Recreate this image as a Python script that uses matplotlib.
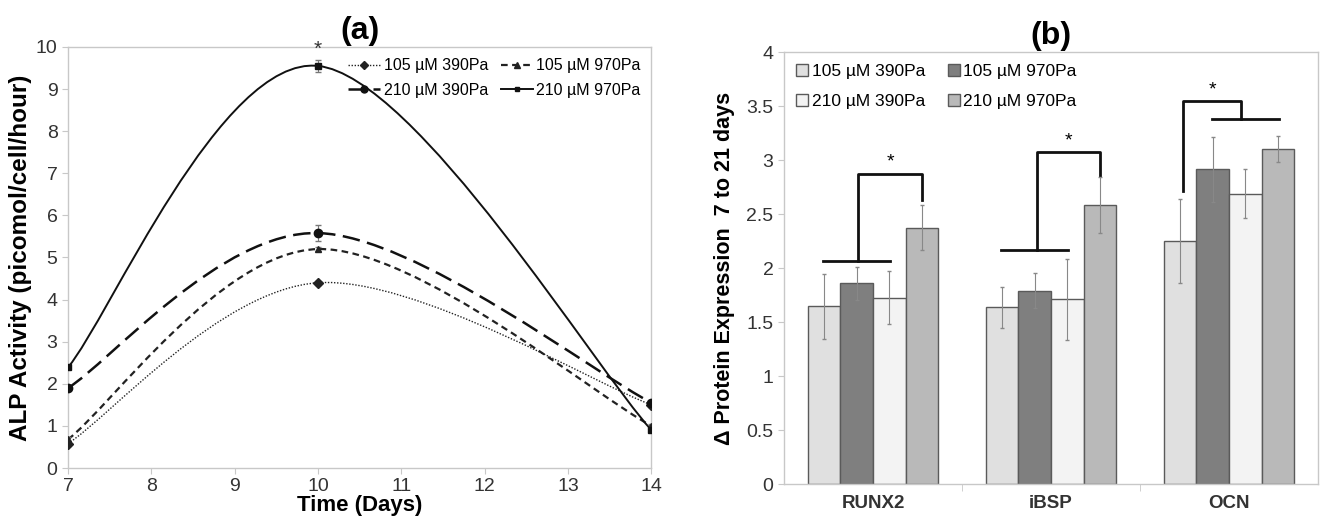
import numpy as np
import matplotlib
matplotlib.use("Agg")
import matplotlib.pyplot as plt
from matplotlib.path import Path
from matplotlib.patches import PathPatch
from matplotlib.lines import Line2D

plt.rcParams['font.family'] = ['Liberation Sans', 'DejaVu Sans']

# ---- panel (a) data ----
days = [7, 10, 14]
alp_series = ['105 µM 390Pa', '105 µM 970Pa', '210 µM 390Pa', '210 µM 970Pa']
alp_105_390 = [0.58, 4.40, 1.50]
alp_105_970 = [0.68, 5.20, 1.00]
alp_210_390 = [1.90, 5.58, 1.55]
alp_210_970 = [2.39, 9.55, 0.90]
alp_err_105_390 = [0.05, 0.05, 0.05]
alp_err_105_970 = [0.05, 0.05, 0.05]
alp_err_210_390 = [0.05, 0.20, 0.05]
alp_err_210_970 = [0.05, 0.15, 0.05]

# ---- panel (b) data ----
proteins = ['RUNX2', 'iBSP', 'OCN']
expr_105_390 = [1.645, 1.635, 2.25]
expr_105_970 = [1.858, 1.79, 2.915]
expr_210_390 = [1.725, 1.71, 2.69]
expr_210_970 = [2.374, 2.585, 3.10]
err_105_390 = [0.30, 0.19, 0.39]
err_105_970 = [0.15, 0.16, 0.30]
err_210_390 = [0.245, 0.375, 0.225]
err_210_970 = [0.21, 0.26, 0.12]


def smooth_path(xs, ys):
    # Excel-style smoothed line: cubic Bezier with 1/6 neighbour tangents
    pts = np.column_stack([xs, ys]).astype(float)
    ext = np.vstack([pts[0], pts, pts[-1]])
    verts = [pts[0]]
    codes = [Path.MOVETO]
    for i in range(len(pts) - 1):
        p0, p1, p2, p3 = ext[i], ext[i + 1], ext[i + 2], ext[i + 3]
        c1 = p1 + (p2 - p0) / 6.0
        c2 = p2 - (p3 - p1) / 6.0
        verts += [c1, c2, p2]
        codes += [Path.CURVE4] * 3
    return Path(verts, codes)


def row_order(items):
    # legend fills columns first; reorder so entries read across rows (2 cols)
    return [items[0], items[2], items[1], items[3]]


fig = plt.figure(figsize=(13.23, 5.32), dpi=100)
ax1 = fig.add_axes([0.0514, 0.1203, 0.441, 0.7914])
ax2 = fig.add_axes([0.5926, 0.0902, 0.4036, 0.812])

spine_col = '#c8c8c8'
for ax in (ax1, ax2):
    for s in ax.spines.values():
        s.set_color(spine_col)
        s.set_linewidth(1.0)
    ax.tick_params(colors='#333333', labelsize=14, length=4, color=spine_col)

# ---- panel (a) ----
styles = [
    dict(ls=(0, (1, 1.2)), lw=1.0, marker='D', ms=5, color='#222222'),
    dict(ls=(0, (3, 2)), lw=1.6, marker='^', ms=5, color='#222222'),
    dict(ls=(0, (7, 3)), lw=1.8, marker='o', ms=6, color='#111111'),
    dict(ls='-', lw=1.4, marker='s', ms=4, color='#111111'),
]
values = [alp_105_390, alp_105_970, alp_210_390, alp_210_970]
errs = [alp_err_105_390, alp_err_105_970, alp_err_210_390, alp_err_210_970]
handles = []
for name, vals, err, st in zip(alp_series, values, errs, styles):
    patch = PathPatch(smooth_path(days, vals), fill=False, edgecolor=st['color'],
                      lw=st['lw'], linestyle=st['ls'], zorder=2)
    ax1.add_patch(patch)
    ax1.errorbar(days, vals, yerr=err, fmt='none', ecolor='#777777',
                 elinewidth=0.8, capsize=2, zorder=3)
    ax1.plot(days, vals, ls='none', marker=st['marker'], ms=st['ms'],
             color=st['color'], zorder=4)
    handles.append(Line2D([], [], color=st['color'], lw=st['lw'], ls=st['ls'],
                          marker=st['marker'], ms=st['ms'] - 1))

ax1.text(10, 9.72, '*', ha='center', va='bottom', fontsize=15, color='#333333')
ax1.set_xlim(7, 14)
ax1.set_ylim(0, 10)
ax1.set_xticks(range(7, 15))
ax1.set_yticks(range(0, 11))
ax1.set_xlabel('Time (Days)', fontsize=16, fontweight='bold', labelpad=0)
ax1.set_ylabel('ALP Activity (picomol/cell/hour)', fontsize=17.5, fontweight='bold', labelpad=3)
ax1.set_title('(a)', fontsize=23, fontweight='bold', pad=6)
ax1.legend(row_order(handles), row_order(alp_series), ncol=2, loc='upper right',
           frameon=False, fontsize=11.5, handlelength=2.0, handletextpad=0.2,
           columnspacing=0.8, labelspacing=0.6, borderaxespad=0.3)

# ---- panel (b) ----
x = np.arange(len(proteins))
w = 0.183
bar_vals = [expr_105_390, expr_105_970, expr_210_390, expr_210_970]
bar_errs = [err_105_390, err_105_970, err_210_390, err_210_970]
bar_cols = ['#e0e0e0', '#7f7f7f', '#f3f3f3', '#b9b9b9']
bars = []
for i, (vals, err, col) in enumerate(zip(bar_vals, bar_errs, bar_cols)):
    b = ax2.bar(x + (i - 1.5) * w, vals, width=w, color=col, edgecolor='#5a5a5a',
                linewidth=1.0, zorder=2)
    bars.append(b)
    ax2.errorbar(x + (i - 1.5) * w, vals, yerr=err, fmt='none', ecolor='#888888',
                 elinewidth=0.8, capsize=1.5, zorder=3)

bk = dict(color='#111111', lw=2.0, zorder=4)
# RUNX2
ax2.plot([-0.283, 0.094], [2.068, 2.068], **bk)
ax2.plot([-0.083, -0.083, 0.278, 0.278], [2.068, 2.875, 2.875, 2.63], **bk)
ax2.text(0.10, 2.90, '*', ha='center', va='bottom', fontsize=14)
# iBSP
ax2.plot([0.719, 1.097], [2.167, 2.167], **bk)
ax2.plot([0.92, 0.92, 1.276, 1.276], [2.167, 3.076, 3.076, 2.86], **bk)
ax2.text(1.10, 3.10, '*', ha='center', va='bottom', fontsize=14)
# OCN
ax2.plot([1.74, 1.74, 2.07, 2.07], [2.71, 3.55, 3.55, 3.38], **bk)
ax2.plot([1.906, 2.283], [3.38, 3.38], **bk)
ax2.text(1.906, 3.57, '*', ha='center', va='bottom', fontsize=14)

ax2.set_xlim(-0.5, 2.5)
ax2.set_ylim(0, 4)
ax2.set_yticks(np.arange(0, 4.01, 0.5))
ax2.set_yticklabels(['0', '0.5', '1', '1.5', '2', '2.5', '3', '3.5', '4'])
ax2.set_xticks(x)
ax2.set_xticklabels(proteins, fontweight='bold', fontsize=13.5)
ax2.tick_params(axis='x', length=0, pad=8)
ax2.set_xticks([0.5, 1.5], minor=True)
ax2.tick_params(axis='x', which='minor', length=5, color=spine_col)
ax2.set_ylabel('Δ Protein Expression  7 to 21 days', fontsize=15.5, fontweight='bold', labelpad=8)
ax2.set_title('(b)', fontsize=23, fontweight='bold', pad=6)
ax2.legend(row_order(bars), row_order(alp_series), ncol=2, loc='upper left',
           frameon=False, fontsize=12.5, handlelength=0.7, handleheight=0.7,
           handletextpad=0.2, columnspacing=1.3, labelspacing=0.85, borderaxespad=0.3)

fig.savefig('out.png', dpi=100)
